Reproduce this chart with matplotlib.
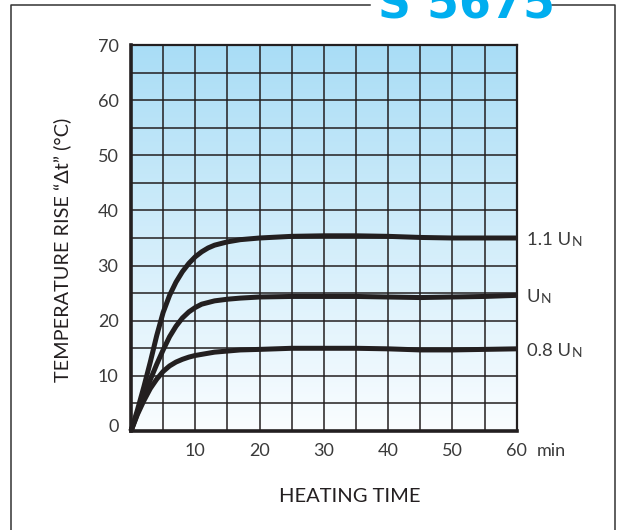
import numpy as np
import matplotlib
matplotlib.use("Agg")
import matplotlib.pyplot as plt
from matplotlib.colors import LinearSegmentedColormap
from matplotlib.lines import Line2D
from matplotlib.transforms import ScaledTranslation

plt.rcParams['font.family'] = ['Lato', 'DejaVu Sans']

# heating time (min) and temperature rise (degC) for the three supply voltages
t_min = [0, 1, 2, 3, 4, 5, 6, 7, 8, 9, 10, 11, 12, 13, 15, 17, 20,
         25, 30, 35, 40, 45, 50, 55, 60]
rise_11un = [0, 3.8, 8.0, 12.5, 17.3, 21.5, 24.6, 27.0, 28.9, 30.4, 31.6, 32.5, 33.2, 33.7,
             34.3, 34.7, 35.0, 35.3, 35.4, 35.4, 35.3, 35.1, 35.0, 35.0, 35.0]
rise_un = [0, 3.2, 6.3, 9.3, 12.1, 14.7, 17.1, 19.0, 20.5, 21.6, 22.4, 23.0, 23.3, 23.6,
           23.9, 24.1, 24.3, 24.4, 24.4, 24.4, 24.3, 24.2, 24.3, 24.4, 24.6]
rise_08un = [0, 3.0, 5.5, 7.7, 9.4, 10.8, 11.8, 12.5, 13.0, 13.4, 13.7, 13.9, 14.1, 14.3,
             14.5, 14.7, 14.8, 15.0, 15.0, 15.0, 14.9, 14.7, 14.7, 14.8, 14.9]

curves = [
    (rise_11un, "1.1 U"),
    (rise_un, "U"),
    (rise_08un, "0.8 U"),
]

x_ticks = list(range(0, 61, 5))
y_ticks = list(range(0, 71, 5))
x_labels = [str(v) if v % 10 == 0 and v > 0 else "" for v in x_ticks]
y_labels = [str(v) if v % 10 == 0 else "" for v in y_ticks]

ink = "#231f20"
txt = "#3a3a3a"

fig = plt.figure(figsize=(6.25, 5.3), dpi=100)
ax = fig.add_axes([131 / 625, 1 - 431 / 530, (516.7 - 131) / 625, (431 - 45) / 530])

# light blue wash, fading to white at the bottom
grad = np.linspace(1, 0, 256).reshape(-1, 1)
cmap = LinearSegmentedColormap.from_list("wash", ["#fafdff", "#a9ddf6"])
ax.imshow(grad, extent=[0, 60, 0, 70], aspect='auto', cmap=cmap, zorder=0)

ax.set_xlim(0, 60)
ax.set_ylim(0, 70)
ax.set_xticks(x_ticks)
ax.set_xticklabels(x_labels)
ax.set_yticks(y_ticks)
ax.set_yticklabels(y_labels)
ax.tick_params(length=0, labelsize=13, labelcolor=txt)
ax.tick_params(axis='x', pad=9)
ax.tick_params(axis='y', pad=9)
ax.grid(True, color=ink, lw=1.1, zorder=1)
ax.set_axisbelow(False)

# the "0" sits a little above the baseline
zero = ax.get_yticklabels()[0]
zero.set_transform(zero.get_transform() + ScaledTranslation(0, 6 / 100, fig.dpi_scale_trans))

for side in ['left', 'bottom']:
    ax.spines[side].set_linewidth(2.6)
    ax.spines[side].set_color(ink)
for side in ['top', 'right']:
    ax.spines[side].set_linewidth(1.6)
    ax.spines[side].set_color(ink)

for vals, name in curves:
    ax.plot(t_min, vals, color=ink, lw=3.6, solid_joinstyle='round',
            solid_capstyle='butt', zorder=3, clip_on=False)
    lab = ax.annotate(name, xy=(60, vals[-1]), xytext=(10, -2), textcoords='offset pixels',
                      ha='left', va='center', fontsize=13.3, color=txt)
    ax.annotate("N", xy=(1, 0), xycoords=lab, xytext=(1, 0), textcoords='offset pixels',
                ha='left', va='bottom', fontsize=10, color=txt)

ax.annotate("min", xy=(60, 0), xytext=(20, -20), textcoords='offset pixels',
            ha='left', va='center', fontsize=13, color=txt)

fig.text(350 / 625, 1 - 497 / 530, "HEATING TIME", ha='center', va='center',
         fontsize=14.5, color=ink)
fig.text(62 / 625, 1 - 250 / 530, "TEMPERATURE RISE \u201c\u0394t\u201d (\u00b0C)",
         rotation=90, ha='center', va='center', fontsize=14.3, color=ink)

# outer frame, broken where the type number sits
frame_kw = dict(color="#333333", lw=1.1, transform=fig.transFigure)
fig.add_artist(Line2D([11 / 625, 11 / 625, 370 / 625], [0, 1 - 5 / 530, 1 - 5 / 530], **frame_kw))
fig.add_artist(Line2D([552 / 625, 615 / 625, 615 / 625], [1 - 5 / 530, 1 - 5 / 530, 0], **frame_kw))
fig.text(466 / 625, 1 - 18.5 / 530, "S 5675", ha='center', va='baseline',
         fontsize=33, fontweight='bold', color="#00aeef", family='DejaVu Sans')

fig.savefig("out.png", dpi=100)
